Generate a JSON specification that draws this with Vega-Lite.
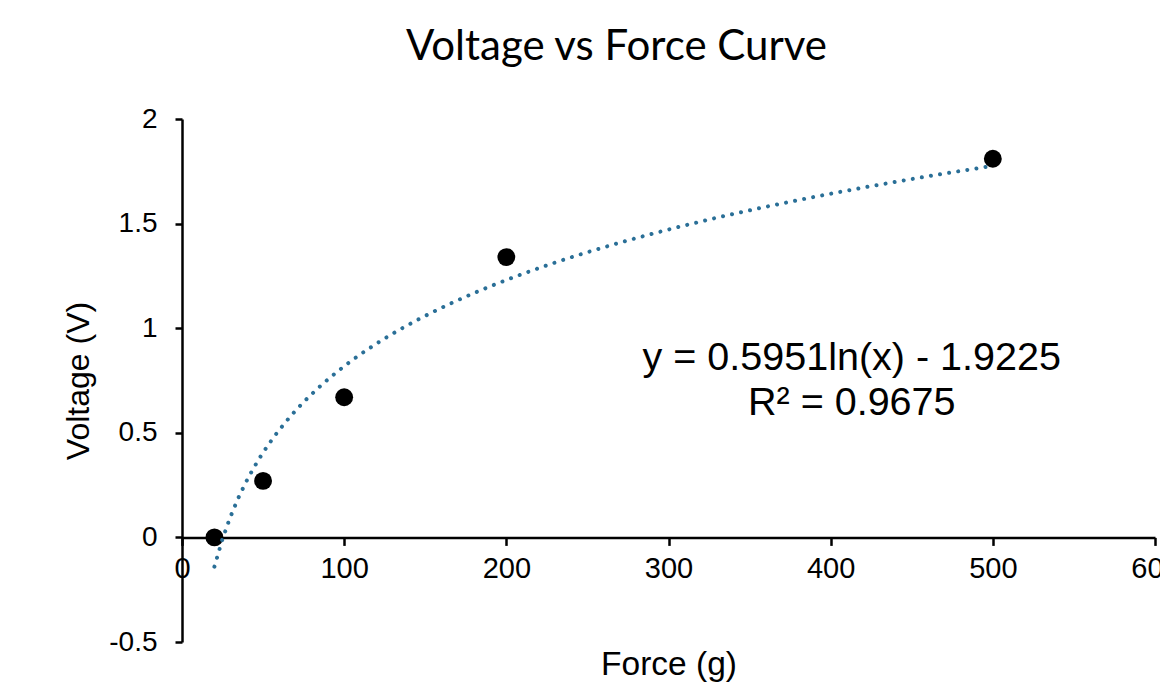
{
  "$schema": "https://vega.github.io/schema/vega-lite/v6.json",
  "width": 973,
  "height": 523,
  "autosize": {"type": "none"},
  "padding": {"left": 182, "top": 119, "right": 5, "bottom": 45},
  "background": "white",
  "config": {"view": {"stroke": null}},
  "title": {
    "text": "Voltage vs Force Curve",
    "font": "Lato",
    "fontSize": 42,
    "fontWeight": "normal",
    "color": "#000000",
    "anchor": "middle",
    "frame": "group",
    "dx": -52,
    "dy": 14,
    "offset": 50
  },
  "datasets": {
    "points": [
      {"force": 20, "voltage": 0},
      {"force": 50, "voltage": 0.27},
      {"force": 100, "voltage": 0.67},
      {"force": 200, "voltage": 1.34},
      {"force": 500, "voltage": 1.81}
    ],
    "notes": [
      {"force": 413, "voltage": 0.8, "label": "y = 0.5951ln(x) - 1.9225"},
      {"force": 413, "voltage": 0.585, "label": "R² = 0.9675"}
    ]
  },
  "layer": [
    {
      "data": {"name": "points"},
      "mark": {"type": "point", "filled": true, "color": "#000000", "opacity": 1, "size": 320},
      "encoding": {
        "x": {
          "field": "force", "type": "quantitative",
          "scale": {"domain": [0, 600], "nice": false, "zero": false},
          "axis": {
            "title": "Force (g)",
            "values": [0, 100, 200, 300, 400, 500, 600],
            "grid": false,
            "offset": -104.6,
            "domainColor": "#000000", "domainWidth": 2.5,
            "tickColor": "#000000", "tickWidth": 2.5, "tickSize": 8,
            "labelFont": "Liberation Sans", "labelFontSize": 29, "labelColor": "#000000",
            "labelPadding": 9, "labelFlush": false, "labelOverlap": false,
            "titleFont": "Liberation Sans", "titleFontSize": 33.5, "titleFontWeight": "normal", "titleColor": "#000000",
            "titleBaseline": "middle", "titleY": 127
          }
        },
        "y": {
          "field": "voltage", "type": "quantitative",
          "scale": {"domain": [-0.5, 2], "nice": false, "zero": false},
          "axis": {
            "title": "Voltage (V)",
            "values": [-0.5, 0, 0.5, 1, 1.5, 2],
            "labelExpr": "'' + datum.value",
            "grid": false,
            "domainColor": "#000000", "domainWidth": 2.5,
            "tickColor": "#000000", "tickWidth": 2.5, "tickSize": 7,
            "labelFont": "Liberation Sans", "labelFontSize": 28, "labelColor": "#000000",
            "labelPadding": 18, "labelFlush": false, "labelOverlap": false,
            "titleFont": "Liberation Sans", "titleFontSize": 32, "titleFontWeight": "normal", "titleColor": "#000000",
            "titlePadding": 13
          }
        }
      }
    },
    {
      "data": {"name": "points"},
      "transform": [
        {"regression": "voltage", "on": "force", "method": "log", "extent": [20, 500]}
      ],
      "mark": {"type": "line", "color": "#2A6F97", "strokeWidth": 4, "strokeDash": [0.01, 9.2], "strokeCap": "round"},
      "encoding": {
        "x": {"field": "force", "type": "quantitative"},
        "y": {"field": "voltage", "type": "quantitative"}
      }
    },
    {
      "data": {"name": "notes"},
      "mark": {"type": "text", "font": "Liberation Sans", "fontSize": 39.5, "color": "#000000", "align": "center", "baseline": "alphabetic"},
      "encoding": {
        "x": {"field": "force", "type": "quantitative"},
        "y": {"field": "voltage", "type": "quantitative"},
        "text": {"field": "label"}
      }
    }
  ]
}
